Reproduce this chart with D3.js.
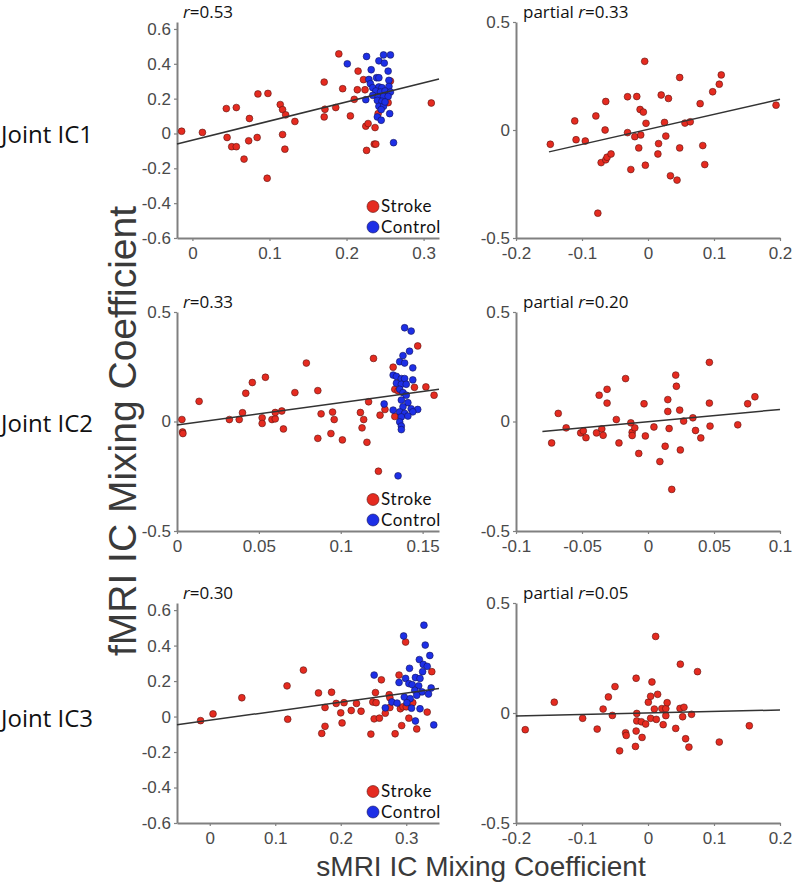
<!DOCTYPE html>
<html lang="en">
<head>
<meta charset="utf-8">
<title>Joint IC mixing coefficients</title>
<script src="https://cdnjs.cloudflare.com/ajax/libs/d3/7.8.5/d3.min.js"></script>
<style>
html, body { margin: 0; padding: 0; background: #fff; }
.axis .domain { stroke: #808080; stroke-width: 2; }
.axis line { stroke: #808080; stroke-width: 1.2; }
.axis text { font-family: "Liberation Sans", Arial, sans-serif; font-size: 17px; fill: #4a4a4a; }
.title { font-family: "Liberation Sans", Arial, sans-serif; fill: #3a3a3a; }
.calib { font-family: "Open Sans", "Lato", sans-serif; fill: #111; }
.legend { font-family: "Lato", "Open Sans", sans-serif; fill: #111; letter-spacing: 0.6px; }
</style>
</head>
<body>
<div id="chart"></div>
<script>
// ---- data ----
// Joint IC1
var ic1Stroke = [[-0.014,0.013],[0.013,0.006],[0.045,-0.023],[0.044,0.143],[0.057,0.149],[0.051,-0.076],[0.057,-0.076],
  [0.067,-0.147],[0.073,-0.042],[0.074,0.086],[0.084,-0.023],[0.085,0.227],[0.098,0.230],[0.097,-0.257],[0.114,0.166],
  [0.117,0.137],[0.121,0.107],[0.117,-0.006],[0.120,-0.090],[0.133,0.069],[0.171,0.295],[0.172,0.139],[0.171,0.095],
  [0.186,0.149],[0.190,0.457],[0.195,0.257],[0.205,0.101],[0.210,0.196],[0.214,0.251],[0.215,0.358],[0.222,0.309],
  [0.224,0.251],[0.225,0.042],[0.228,0.057],[0.226,-0.097],[0.237,0.034],[0.236,-0.061],[0.238,-0.061],[0.241,0.114],
  [0.254,0.177],[0.257,0.301],[0.310,0.175]];
var ic1Control = [[0.226,0.442],[0.201,0.400],[0.248,0.451],[0.257,0.451],[0.242,0.417],[0.249,0.404],[0.232,0.366],
  [0.254,0.358],[0.239,0.320],[0.242,0.320],[0.229,0.310],[0.255,0.305],[0.231,0.286],[0.234,0.263],[0.242,0.267],
  [0.246,0.263],[0.255,0.270],[0.238,0.244],[0.244,0.238],[0.250,0.244],[0.257,0.238],[0.234,0.219],[0.241,0.210],
  [0.248,0.213],[0.254,0.213],[0.225,0.194],[0.240,0.190],[0.246,0.185],[0.242,0.156],[0.248,0.156],[0.245,0.137],
  [0.256,0.114],[0.240,0.095],[0.245,0.076],[0.261,-0.053],[0.250,0.181]];
var ic1Partial = [[-0.148,-0.066],[-0.111,0.042],[-0.109,-0.045],[-0.095,-0.051],[-0.079,0.065],[-0.064,0.132],
  [-0.065,0.000],[-0.071,-0.151],[-0.064,-0.138],[-0.062,-0.126],[-0.056,-0.111],[-0.076,-0.385],[-0.031,0.154],
  [-0.031,-0.012],[-0.017,0.155],[-0.012,0.095],[-0.007,0.083],[-0.020,-0.031],[-0.011,-0.023],[-0.014,-0.083],
  [-0.026,-0.183],[-0.005,0.318],[-0.003,0.031],[-0.004,-0.163],[0.020,0.162],[0.031,0.146],[0.025,0.035],
  [0.027,-0.028],[0.016,-0.063],[0.015,-0.111],[0.034,-0.212],[0.044,-0.232],[0.048,0.243],[0.048,-0.083],
  [0.056,0.032],[0.064,0.038],[0.079,0.122],[0.083,-0.072],[0.086,-0.160],[0.098,0.177],[0.108,0.212],
  [0.111,0.255],[0.194,0.115]];

// Joint IC2
var ic2Stroke = [[0.003,0.009],[0.0034,-0.048],[0.0036,-0.055],[0.0135,0.092],[0.032,0.009],[0.038,0.009],[0.040,0.040],
  [0.042,0.129],[0.046,0.178],[0.052,0.017],[0.052,-0.009],[0.054,0.202],[0.058,0.009],[0.060,0.012],[0.060,0.041],
  [0.064,0.048],[0.065,-0.034],[0.072,0.132],[0.079,0.267],[0.086,0.141],[0.086,-0.077],[0.088,0.035],[0.094,-0.055],
  [0.095,0.043],[0.096,0.009],[0.101,-0.084],[0.112,0.041],[0.114,0.009],[0.113,-0.029],[0.117,0.090],[0.116,-0.095],
  [0.120,0.288],[0.123,-0.227],[0.124,0.029],[0.127,0.055],[0.132,0.248],[0.133,0.147],[0.133,0.023],[0.145,0.156],
  [0.147,0.345],[0.152,0.158],[0.157,0.120],[0.135,0.140]];
var ic2Control = [[0.139,0.428],[0.143,0.413],[0.142,0.321],[0.138,0.301],[0.136,0.273],[0.139,0.267],[0.144,0.245],
  [0.132,0.212],[0.134,0.206],[0.137,0.196],[0.139,0.196],[0.144,0.190],[0.134,0.175],[0.137,0.170],[0.140,0.170],
  [0.136,0.147],[0.138,0.132],[0.140,0.120],[0.137,0.098],[0.141,0.086],[0.1265,0.080],[0.138,0.067],[0.143,0.058],
  [0.132,0.052],[0.136,0.044],[0.139,0.037],[0.147,0.055],[0.144,0.044],[0.137,0.021],[0.141,0.025],[0.136,-0.002],
  [0.137,-0.021],[0.137,-0.037],[0.135,-0.248]];
var ic2Partial = [[-0.073,-0.098],[-0.068,0.037],[-0.062,-0.029],[-0.051,-0.052],[-0.049,-0.043],[-0.047,-0.074],
  [-0.039,-0.052],[-0.037,0.120],[-0.035,-0.034],[-0.034,-0.063],[-0.031,0.084],[-0.031,0.147],[-0.024,0.009],
  [-0.022,-0.098],[-0.017,0.196],[-0.013,-0.006],[-0.012,-0.049],[-0.012,-0.064],[-0.010,-0.029],[-0.007,-0.146],
  [-0.003,0.081],[-0.002,-0.066],[0.0045,-0.025],[0.009,-0.183],[0.013,-0.113],[0.015,0.100],[0.015,0.046],
  [0.016,-0.032],[0.018,-0.310],[0.021,0.212],[0.0215,0.161],[0.024,0.052],[0.0245,-0.130],[0.027,0.002],
  [0.034,0.017],[0.036,-0.041],[0.040,-0.075],[0.0465,0.270],[0.0465,0.084],[0.047,-0.021],[0.068,-0.015],
  [0.0755,0.081],[0.081,0.113]];

// Joint IC3
var ic3Stroke = [[-0.014,-0.023],[0.005,0.015],[0.049,0.106],[0.118,0.173],[0.119,-0.015],[0.143,0.262],[0.166,0.133],
  [0.186,0.137],[0.176,0.051],[0.176,-0.055],[0.171,-0.095],[0.193,0.074],[0.200,0.021],[0.202,-0.036],[0.205,0.078],
  [0.216,0.034],[0.224,0.074],[0.231,0.030],[0.246,-0.099],[0.249,0.082],[0.253,0.135],[0.254,0.078],[0.251,-0.013],
  [0.259,-0.009],[0.262,0.207],[0.268,0.019],[0.274,0.123],[0.275,0.106],[0.275,0.051],[0.283,-0.097],[0.289,0.234],
  [0.291,0.044],[0.293,-0.051],[0.295,0.055],[0.299,0.420],[0.300,0.055],[0.304,-0.009],[0.310,0.078],[0.316,-0.070],
  [0.332,0.025],[0.339,0.253]];
var ic3Control = [[0.327,0.515],[0.296,0.454],[0.329,0.403],[0.336,0.344],[0.320,0.321],[0.326,0.294],[0.332,0.283],
  [0.305,0.272],[0.251,0.234],[0.325,0.253],[0.299,0.215],[0.314,0.220],[0.321,0.215],[0.289,0.192],[0.304,0.186],
  [0.309,0.180],[0.319,0.173],[0.338,0.161],[0.313,0.148],[0.324,0.139],[0.316,0.120],[0.334,0.127],[0.297,0.110],
  [0.306,0.101],[0.278,0.082],[0.286,0.076],[0.301,0.078],[0.268,0.049],[0.308,0.047],[0.321,0.044],[0.314,-0.025],
  [0.342,-0.047]];
var ic3Partial = [[-0.186,-0.076],[-0.142,0.049],[-0.099,-0.024],[-0.077,-0.073],[-0.068,0.018],[-0.060,0.073],
  [-0.054,-0.011],[-0.050,0.120],[-0.043,-0.172],[-0.034,-0.090],[-0.033,-0.102],[-0.018,0.158],[-0.017,-0.002],
  [-0.017,-0.036],[-0.018,-0.082],[-0.019,-0.152],[-0.010,-0.040],[-0.009,-0.111],[-0.0035,-0.050],[0.0005,0.049],
  [0.004,0.076],[0.004,-0.024],[0.006,0.141],[0.0096,0.018],[0.0116,0.348],[0.0126,-0.029],[0.0146,0.085],
  [0.021,0.020],[0.023,-0.053],[0.027,0.020],[0.027,-0.012],[0.029,0.047],[0.042,-0.070],[0.0485,0.021],
  [0.049,0.222],[0.0525,-0.017],[0.0545,0.026],[0.057,-0.117],[0.062,-0.155],[0.066,-0.006],[0.075,0.188],
  [0.108,-0.132],[0.1535,-0.058]];

// least-squares lines: slope, intercept, x start, x end (order: IC1, IC1 partial, IC2, IC2 partial, IC3, IC3 partial)
var fitSlope     = [1.095, 0.695, 1.019, 0.563, 0.512, 0.068];
var fitIntercept = [-0.038, 0.003, -0.0157, -0.001, -0.021, 0.0];
var fitFrom      = [-0.02, -0.15, 0, -0.08, -0.05, -0.2];
var fitTo        = [0.32, 0.2, 0.16, 0.1, 0.35, 0.2];

var corrLabels = ["0.53", "0.33", "0.33", "0.20", "0.30", "0.05"];
var rowLabels = ["Joint IC1", "Joint IC2", "Joint IC3"];
var groupNames = ["Stroke", "Control"];

// axis limits and ticks
var xDomains = [[-0.02, 0.32], [-0.2, 0.2], [0, 0.16], [-0.1, 0.1], [-0.05, 0.35], [-0.2, 0.2]];
var yDomains = [[-0.6, 0.64], [-0.5, 0.5], [-0.5, 0.5], [-0.5, 0.5], [-0.6, 0.64], [-0.5, 0.5]];
var xTicks = [[0, 0.1, 0.2, 0.3], [-0.2, -0.1, 0, 0.1, 0.2], [0, 0.05, 0.1, 0.15],
  [-0.1, -0.05, 0, 0.05, 0.1], [0, 0.1, 0.2, 0.3], [-0.2, -0.1, 0, 0.1, 0.2]];
var yTicksWide = [-0.6, -0.4, -0.2, 0, 0.2, 0.4, 0.6];
var yTicksHalf = [-0.5, 0, 0.5];

// ---- layout ----
var W = 795, H = 887;
var colX = [[177, 439], [516, 780]];
var rowY = [[238, 22], [531, 312], [823, 603]];
var red = "#e52b20", blue = "#1d2fe6";

var svg = d3.select("#chart").append("svg").attr("width", W).attr("height", H);

var panels = [
  {groups: [ic1Stroke, ic1Control]}, {groups: [ic1Partial]},
  {groups: [ic2Stroke, ic2Control]}, {groups: [ic2Partial]},
  {groups: [ic3Stroke, ic3Control]}, {groups: [ic3Partial]}
];

function fmt(v) { return v === 0 ? "0" : String(v); }

panels.forEach(function(p, i) {
  var row = Math.floor(i / 2), col = i % 2;
  var x = d3.scaleLinear().domain(xDomains[i]).range(colX[col]);
  var y = d3.scaleLinear().domain(yDomains[i]).range(rowY[row]);
  var g = svg.append("g");
  var yt = (i === 0 || i === 4) ? yTicksWide : yTicksHalf;

  g.append("g").attr("class", "axis")
    .attr("transform", "translate(" + colX[col][0] + ",0)")
    .call(d3.axisLeft(y).tickValues(yt).tickFormat(fmt).tickSize(3).tickSizeOuter(0).tickPadding(3));
  g.append("g").attr("class", "axis")
    .attr("transform", "translate(0," + rowY[row][0] + ")")
    .call(d3.axisBottom(x).tickValues(xTicks[i]).tickFormat(fmt).tickSize(3).tickSizeOuter(0).tickPadding(6));

  var colors = p.groups.length === 2 ? [red, blue] : [red];
  p.groups.forEach(function(pts, k) {
    g.append("g").selectAll("circle").data(pts).enter().append("circle")
      .attr("cx", function(d) { return x(d[0]); })
      .attr("cy", function(d) { return y(d[1]); })
      .attr("r", 3.4)
      .attr("fill", colors[k])
      .attr("stroke", k === 0 ? "#5a1410" : "#14145a")
      .attr("stroke-width", 0.6);
  });

  g.append("line")
    .attr("x1", x(fitFrom[i])).attr("y1", y(fitIntercept[i] + fitSlope[i] * fitFrom[i]))
    .attr("x2", x(fitTo[i])).attr("y2", y(fitIntercept[i] + fitSlope[i] * fitTo[i]))
    .attr("stroke", "#333").attr("stroke-width", 1.5);

  // correlation label
  var lbl = g.append("text").attr("class", "calib").attr("font-size", 17)
    .attr("x", col === 0 ? 183 : 523).attr("y", rowY[row][1] - 4);
  if (col === 1) lbl.append("tspan").text("partial ");
  lbl.append("tspan").attr("font-style", "italic").text("r");
  lbl.append("tspan").text("=" + corrLabels[i]);

  if (col === 0) {
    var base = rowY[row][0];
    groupNames.forEach(function(name, k) {
      g.append("circle").attr("cx", 373).attr("cy", base - 31.5 + k * 20.5).attr("r", 6)
        .attr("fill", k === 0 ? red : blue).attr("stroke", k === 0 ? "#5a1410" : "#14145a").attr("stroke-width", 0.6);
      g.append("text").attr("class", "legend").attr("font-size", 17)
        .attr("x", 381).attr("y", base - 26 + k * 20.5).text(name);
    });
    g.append("text").attr("class", "calib").attr("font-size", 24)
      .attr("x", 1).attr("y", y(0) + 10).text(rowLabels[row]);
  }
});

svg.append("text").attr("class", "title").attr("font-size", 39)
  .attr("text-anchor", "middle")
  .attr("transform", "translate(136,431) rotate(-90)")
  .text("fMRI IC Mixing Coefficient");

svg.append("text").attr("class", "title").attr("font-size", 28)
  .attr("text-anchor", "middle")
  .attr("x", 481).attr("y", 876)
  .text("sMRI IC Mixing Coefficient");
</script>
</body>
</html>
